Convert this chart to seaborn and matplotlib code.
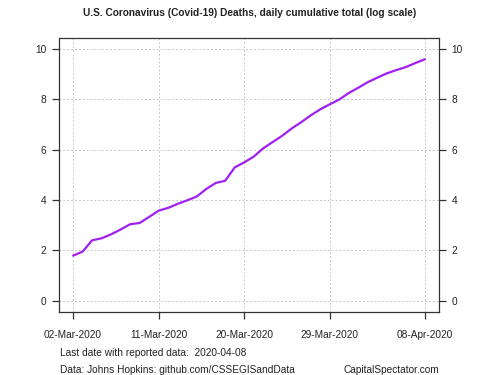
import matplotlib
matplotlib.use("Agg")
import matplotlib.pyplot as plt
import matplotlib.dates as mdates
import numpy as np
import pandas as pd
import seaborn as sns

# natural log of cumulative US deaths
dates = pd.date_range("2020-03-02", "2020-04-08", freq="D")
log_deaths = [
    1.79, 1.95, 2.40, 2.48, 2.64, 2.83, 3.04, 3.09, 3.33, 3.58,
    3.69, 3.85, 3.99, 4.14, 4.44, 4.68, 4.77, 5.30, 5.50, 5.73,
    6.06, 6.31, 6.56, 6.85, 7.10, 7.37, 7.61, 7.81, 8.00, 8.26,
    8.47, 8.69, 8.87, 9.04, 9.17, 9.29, 9.45, 9.60,
]
x_ticks = ["2020-03-02", "2020-03-11", "2020-03-20", "2020-03-29", "2020-04-08"]
y_ticks = [0, 2, 4, 6, 8, 10]

df = pd.DataFrame({"date": dates, "value": log_deaths})

sns.set_theme(style="white")
plt.rcParams["font.family"] = ["Liberation Sans", "DejaVu Sans"]
fs = 7.3

fig = plt.figure(figsize=(5, 3.75), dpi=100)
ax = fig.add_axes([0.118, 0.168, 0.76, 0.731])

sns.lineplot(data=df, x="date", y="value", color="#A020F0", linewidth=1.6, ax=ax)

tick_dates = pd.to_datetime(x_ticks)
ax.set_xticks(tick_dates)
ax.xaxis.set_major_formatter(mdates.DateFormatter("%d-%b-%Y"))
span = dates[-1] - dates[0]
ax.set_xlim(dates[0] - span * 0.04, dates[-1] + span * 0.04)
ax.set_ylim(-0.45, 10.45)
ax.set_yticks(y_ticks)

ax.grid(True, color="#c8c8c8", linestyle=(0, (2, 2)), linewidth=0.7)
ax.set_xlabel("")
ax.set_ylabel("")
for side in ["left", "right", "top", "bottom"]:
    ax.spines[side].set_color("#333333")
    ax.spines[side].set_linewidth(0.9)
ax.tick_params(axis="both", direction="out", length=5, width=0.9, color="#333333",
               labelsize=fs, labelcolor="#222222", bottom=True, left=True,
               right=True, labelright=True, pad=4)
ax.tick_params(axis="x", pad=8)

fig.text(0.5, 0.965, "U.S. Coronavirus (Covid-19) Deaths, daily cumulative total (log scale)",
         ha="center", va="center", fontsize=fs, fontweight="bold", color="#222222")
fig.text(0.12, 0.058, "Last date with reported data:  2020-04-08",
         ha="left", va="center", fontsize=fs, color="#222222")
fig.text(0.12, 0.013, "Data: Johns Hopkins: github.com/CSSEGISandData",
         ha="left", va="center", fontsize=fs, color="#222222")
fig.text(0.878, 0.013, "CapitalSpectator.com",
         ha="right", va="center", fontsize=fs, color="#222222")

fig.savefig("out.png", dpi=100)
plt.close(fig)
